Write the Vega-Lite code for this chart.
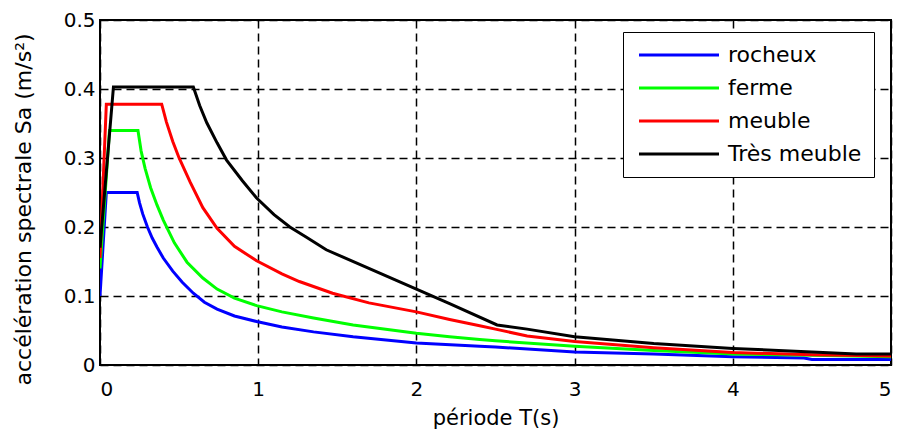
{
  "$schema": "https://vega.github.io/schema/vega-lite/v6.json",
  "autosize": "none",
  "width": 791,
  "height": 345,
  "padding": {"left": 100, "top": 20, "right": 9, "bottom": 64},
  "background": "white",
  "data": {
    "values": [
      {"site": "rocheux", "T": 0, "Sa": 0.10},
      {"site": "rocheux", "T": 0.04, "Sa": 0.25},
      {"site": "rocheux", "T": 0.235, "Sa": 0.25},
      {"site": "rocheux", "T": 0.25, "Sa": 0.235},
      {"site": "rocheux", "T": 0.27, "Sa": 0.219},
      {"site": "rocheux", "T": 0.30, "Sa": 0.20},
      {"site": "rocheux", "T": 0.33, "Sa": 0.184},
      {"site": "rocheux", "T": 0.36, "Sa": 0.171},
      {"site": "rocheux", "T": 0.40, "Sa": 0.155},
      {"site": "rocheux", "T": 0.46, "Sa": 0.136},
      {"site": "rocheux", "T": 0.52, "Sa": 0.120},
      {"site": "rocheux", "T": 0.59, "Sa": 0.104},
      {"site": "rocheux", "T": 0.66, "Sa": 0.091},
      {"site": "rocheux", "T": 0.74, "Sa": 0.081},
      {"site": "rocheux", "T": 0.85, "Sa": 0.071},
      {"site": "rocheux", "T": 0.99, "Sa": 0.063},
      {"site": "rocheux", "T": 1.15, "Sa": 0.055},
      {"site": "rocheux", "T": 1.35, "Sa": 0.048},
      {"site": "rocheux", "T": 1.6, "Sa": 0.041},
      {"site": "rocheux", "T": 2.0, "Sa": 0.032},
      {"site": "rocheux", "T": 2.4, "Sa": 0.027},
      {"site": "rocheux", "T": 2.5, "Sa": 0.026},
      {"site": "rocheux", "T": 3.0, "Sa": 0.019},
      {"site": "rocheux", "T": 3.5, "Sa": 0.016},
      {"site": "rocheux", "T": 4.0, "Sa": 0.012},
      {"site": "rocheux", "T": 4.45, "Sa": 0.010},
      {"site": "rocheux", "T": 4.5, "Sa": 0.008},
      {"site": "rocheux", "T": 5.0, "Sa": 0.008},
      {"site": "ferme", "T": 0, "Sa": 0.14},
      {"site": "ferme", "T": 0.06, "Sa": 0.34},
      {"site": "ferme", "T": 0.24, "Sa": 0.34},
      {"site": "ferme", "T": 0.26, "Sa": 0.31},
      {"site": "ferme", "T": 0.285, "Sa": 0.285},
      {"site": "ferme", "T": 0.32, "Sa": 0.257},
      {"site": "ferme", "T": 0.36, "Sa": 0.232},
      {"site": "ferme", "T": 0.40, "Sa": 0.21},
      {"site": "ferme", "T": 0.47, "Sa": 0.177},
      {"site": "ferme", "T": 0.55, "Sa": 0.149},
      {"site": "ferme", "T": 0.65, "Sa": 0.126},
      {"site": "ferme", "T": 0.74, "Sa": 0.110},
      {"site": "ferme", "T": 0.85, "Sa": 0.097},
      {"site": "ferme", "T": 0.99, "Sa": 0.086},
      {"site": "ferme", "T": 1.15, "Sa": 0.077},
      {"site": "ferme", "T": 1.35, "Sa": 0.068},
      {"site": "ferme", "T": 1.6, "Sa": 0.058},
      {"site": "ferme", "T": 2.0, "Sa": 0.046},
      {"site": "ferme", "T": 2.21, "Sa": 0.041},
      {"site": "ferme", "T": 2.4, "Sa": 0.037},
      {"site": "ferme", "T": 2.5, "Sa": 0.035},
      {"site": "ferme", "T": 3.0, "Sa": 0.027},
      {"site": "ferme", "T": 3.5, "Sa": 0.021},
      {"site": "ferme", "T": 4.0, "Sa": 0.016},
      {"site": "ferme", "T": 4.5, "Sa": 0.014},
      {"site": "ferme", "T": 5.0, "Sa": 0.012},
      {"site": "meuble", "T": 0, "Sa": 0.155},
      {"site": "meuble", "T": 0.04, "Sa": 0.378},
      {"site": "meuble", "T": 0.39, "Sa": 0.378},
      {"site": "meuble", "T": 0.42, "Sa": 0.352},
      {"site": "meuble", "T": 0.46, "Sa": 0.324},
      {"site": "meuble", "T": 0.50, "Sa": 0.300},
      {"site": "meuble", "T": 0.57, "Sa": 0.265},
      {"site": "meuble", "T": 0.65, "Sa": 0.228},
      {"site": "meuble", "T": 0.74, "Sa": 0.198},
      {"site": "meuble", "T": 0.85, "Sa": 0.172},
      {"site": "meuble", "T": 0.99, "Sa": 0.151},
      {"site": "meuble", "T": 1.15, "Sa": 0.132},
      {"site": "meuble", "T": 1.26, "Sa": 0.121},
      {"site": "meuble", "T": 1.47, "Sa": 0.104},
      {"site": "meuble", "T": 1.7, "Sa": 0.09},
      {"site": "meuble", "T": 2.0, "Sa": 0.077},
      {"site": "meuble", "T": 2.21, "Sa": 0.066},
      {"site": "meuble", "T": 2.4, "Sa": 0.057},
      {"site": "meuble", "T": 2.5, "Sa": 0.052},
      {"site": "meuble", "T": 2.7, "Sa": 0.042},
      {"site": "meuble", "T": 3.0, "Sa": 0.034},
      {"site": "meuble", "T": 3.5, "Sa": 0.025},
      {"site": "meuble", "T": 4.0, "Sa": 0.018},
      {"site": "meuble", "T": 4.5, "Sa": 0.015},
      {"site": "meuble", "T": 5.0, "Sa": 0.013},
      {"site": "Très meuble", "T": 0, "Sa": 0.17},
      {"site": "Très meuble", "T": 0.085, "Sa": 0.403},
      {"site": "Très meuble", "T": 0.59, "Sa": 0.403},
      {"site": "Très meuble", "T": 0.63, "Sa": 0.376},
      {"site": "Très meuble", "T": 0.675, "Sa": 0.351},
      {"site": "Très meuble", "T": 0.74, "Sa": 0.322},
      {"site": "Très meuble", "T": 0.80, "Sa": 0.297},
      {"site": "Très meuble", "T": 0.90, "Sa": 0.267},
      {"site": "Très meuble", "T": 0.99, "Sa": 0.242},
      {"site": "Très meuble", "T": 1.1, "Sa": 0.218},
      {"site": "Très meuble", "T": 1.2, "Sa": 0.200},
      {"site": "Très meuble", "T": 1.3, "Sa": 0.186},
      {"site": "Très meuble", "T": 1.43, "Sa": 0.167},
      {"site": "Très meuble", "T": 2.0, "Sa": 0.11},
      {"site": "Très meuble", "T": 2.21, "Sa": 0.089},
      {"site": "Très meuble", "T": 2.51, "Sa": 0.058},
      {"site": "Très meuble", "T": 2.7, "Sa": 0.052},
      {"site": "Très meuble", "T": 3.0, "Sa": 0.041},
      {"site": "Très meuble", "T": 3.5, "Sa": 0.031},
      {"site": "Très meuble", "T": 4.0, "Sa": 0.024},
      {"site": "Très meuble", "T": 4.5, "Sa": 0.019},
      {"site": "Très meuble", "T": 4.78, "Sa": 0.016},
      {"site": "Très meuble", "T": 5.0, "Sa": 0.016}
    ]
  },
  "mark": {"type": "line", "strokeWidth": 3, "clip": true},
  "encoding": {
    "x": {
      "field": "T", "type": "quantitative",
      "scale": {"domain": [0, 5], "nice": false, "zero": false},
      "axis": {
        "values": [0, 1, 2, 3, 4, 5], "format": "d",
        "title": "période T(s)", "labelPadding": 14, "titlePadding": 8
      }
    },
    "y": {
      "field": "Sa", "type": "quantitative",
      "scale": {"domain": [0, 0.5], "nice": false},
      "axis": {
        "values": [0, 0.1, 0.2, 0.3, 0.4, 0.5], "format": "~g",
        "title": "accélération spectrale Sa (m/s²)", "labelPadding": 5, "titlePadding": 28,
        "titleFontSize": 22, "titleY": 189
      }
    },
    "color": {
      "field": "site", "type": "nominal",
      "scale": {
        "domain": ["rocheux", "ferme", "meuble", "Très meuble"],
        "range": ["#0000ff", "#00ff00", "#ff0000", "#000000"]
      },
      "legend": {
        "title": null, "orient": "none", "legendX": 523, "legendY": 12,
        "symbolType": "M-8,0H8", "symbolSize": 100, "symbolStrokeWidth": 3,
        "symbolOffset": 33, "labelOffset": 38,
        "labelFont": "DejaVu Sans", "labelFontSize": 22, "labelColor": "black",
        "strokeColor": "black", "fillColor": "white", "padding": 12, "rowPadding": 11
      }
    }
  },
  "config": {
    "view": {"stroke": "black", "strokeWidth": 2},
    "axis": {
      "grid": true, "gridColor": "black", "gridDash": [8, 5], "gridWidth": 1.5, "gridOpacity": 1,
      "domain": false, "ticks": false,
      "labelFont": "DejaVu Sans", "labelFontSize": 20, "labelColor": "black",
      "titleFont": "DejaVu Sans", "titleFontSize": 21, "titleFontWeight": "normal", "titleColor": "black"
    }
  }
}
